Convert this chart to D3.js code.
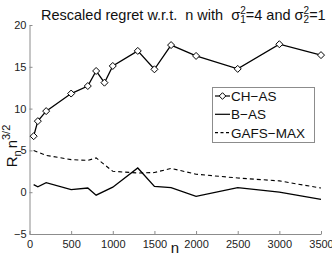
<!DOCTYPE html>
<html>
<head>
<meta charset="utf-8">
<script src="https://cdn.jsdelivr.net/npm/d3@7"></script>
<style>
  body { margin: 0; background: #fff; }
  svg { display: block; font-family: "Liberation Sans", Arial, sans-serif; }
</style>
</head>
<body>
<svg id="chart" width="332" height="258"></svg>
<script>
const nValues = [50, 100, 200, 500, 700, 800, 900, 1000, 1300, 1500, 1700, 2000, 2500, 3000, 3500];
const chAs = [6.7, 8.5, 9.7, 11.8, 12.7, 14.5, 13.1, 15.1, 16.9, 14.7, 17.6, 16.3, 14.75, 17.7, 16.4];

const bAsN = [50, 100, 200, 500, 700, 800, 1000, 1300, 1500, 1700, 2000, 2500, 3000, 3500];
const bAs = [0.9, 0.65, 1.15, 0.3, 0.5, -0.35, 0.6, 2.9, 0.7, 0.55, -0.5, 0.55, 0.0, -0.85];

const gafsN = [50, 200, 500, 700, 800, 1000, 1300, 1500, 1700, 2000, 2500, 3000, 3500];
const gafs = [5.0, 4.4, 3.9, 3.8, 4.1, 2.5, 2.3, 2.35, 2.85, 2.15, 1.7, 1.35, 0.5];

const xTicks = [0, 500, 1000, 1500, 2000, 2500, 3000, 3500];
const yTicks = [-5, 0, 5, 10, 15, 20];

const svg = d3.select("#chart");
const x = d3.scaleLinear().domain([0, 3500]).range([29.5, 321]);
const y = d3.scaleLinear().domain([-5, 20]).range([234, 25]);

const axisColor = "#8c8c8c";

// axes
const xAxis = svg.append("g")
  .attr("transform", "translate(0,234)")
  .call(d3.axisBottom(x).tickValues(xTicks).tickFormat(d3.format("d"))
    .tickSizeInner(-3).tickSizeOuter(0).tickPadding(6));
const yAxis = svg.append("g")
  .attr("transform", "translate(29.5,0)")
  .call(d3.axisLeft(y).tickValues(yTicks).tickFormat((d) => (d < 0 ? "\u2212" + Math.abs(d) : d))
    .tickSizeInner(-3).tickSizeOuter(0).tickPadding(3));

[xAxis, yAxis].forEach((g) => {
  g.select(".domain").attr("stroke", axisColor);
  g.selectAll(".tick line").attr("stroke", axisColor);
  g.selectAll(".tick text")
    .attr("fill", "#222")
    .attr("font-size", 11)
    .attr("font-family", "'Liberation Sans', Arial, sans-serif");
});

// lines
const line = (xs) => d3.line().x((d, i) => x(xs[i])).y((d) => y(d));

svg.append("path")
  .datum(gafs)
  .attr("d", line(gafsN))
  .attr("fill", "none")
  .attr("stroke", "#000")
  .attr("stroke-width", 1.1)
  .attr("stroke-dasharray", "4,3");

svg.append("path")
  .datum(bAs)
  .attr("d", line(bAsN))
  .attr("fill", "none")
  .attr("stroke", "#000")
  .attr("stroke-width", 1.3);

svg.append("path")
  .datum(chAs)
  .attr("d", line(nValues))
  .attr("fill", "none")
  .attr("stroke", "#000")
  .attr("stroke-width", 1.3);

const diamond = (cx, cy, r) => `M${cx},${cy - r}L${cx + r},${cy}L${cx},${cy + r}L${cx - r},${cy}Z`;

svg.selectAll("path.marker")
  .data(chAs)
  .join("path")
  .attr("class", "marker")
  .attr("d", (d, i) => diamond(x(nValues[i]), y(d), 3.5))
  .attr("fill", "#fff")
  .attr("stroke", "#000")
  .attr("stroke-width", 1);

// title (non-breaking spaces keep the double gaps)
const title = svg.append("text")
  .attr("x", 41)
  .attr("y", 20)
  .attr("font-size", 14.5)
  .attr("fill", "#111");
title.append("tspan").text("Rescaled regret w.r.t.\u00a0\u00a0n with\u00a0\u00a0σ");
title.append("tspan").attr("font-size", 10).attr("dy", -6).text("2");
title.append("tspan").attr("font-size", 10).attr("dx", -5.5).attr("dy", 9).text("1");
title.append("tspan").attr("dy", -3).text("=4 and σ");
title.append("tspan").attr("font-size", 10).attr("dy", -6).text("2");
title.append("tspan").attr("font-size", 10).attr("dx", -5.5).attr("dy", 9).text("2");
title.append("tspan").attr("dy", -3).text("=1");

// x label
svg.append("text")
  .attr("x", 175)
  .attr("y", 253)
  .attr("text-anchor", "middle")
  .attr("font-size", 15)
  .attr("fill", "#111")
  .text("n");

// y label
const yl = svg.append("text")
  .attr("transform", "translate(17,146) rotate(-90)")
  .attr("text-anchor", "middle")
  .attr("font-size", 15)
  .attr("fill", "#111");
yl.append("tspan").text("R");
yl.append("tspan").attr("font-size", 11).attr("dy", 4).text("n");
yl.append("tspan").attr("dx", 2).attr("dy", -4).text("n");
yl.append("tspan").attr("font-size", 11).attr("dy", -7).text("3/2");

// legend
const legend = svg.append("g");
legend.append("rect")
  .attr("x", 212.5).attr("y", 87.5)
  .attr("width", 102).attr("height", 55)
  .attr("fill", "#fff")
  .attr("stroke", "#8c8c8c")
  .attr("stroke-width", 1);

const legendItems = [
  { name: "CH-AS", dash: null, marker: true },
  { name: "B-AS", dash: null, marker: false },
  { name: "GAFS-MAX", dash: "3,2.5", marker: false }
];

legendItems.forEach((item, i) => {
  const ly = 96 + i * 18.3;
  legend.append("line")
    .attr("x1", 215).attr("x2", 230)
    .attr("y1", ly).attr("y2", ly)
    .attr("stroke", "#000")
    .attr("stroke-width", 1.2)
    .attr("stroke-dasharray", item.dash);
  if (item.marker) {
    legend.append("path")
      .attr("d", diamond(222.5, ly, 3.3))
      .attr("fill", "#fff")
      .attr("stroke", "#000");
  }
  legend.append("text")
    .attr("x", 231)
    .attr("y", ly + 5)
    .attr("font-size", 13.5)
    .attr("fill", "#111")
    .text(item.name.replace("-", "\u2212"));
});
</script>
</body>
</html>
